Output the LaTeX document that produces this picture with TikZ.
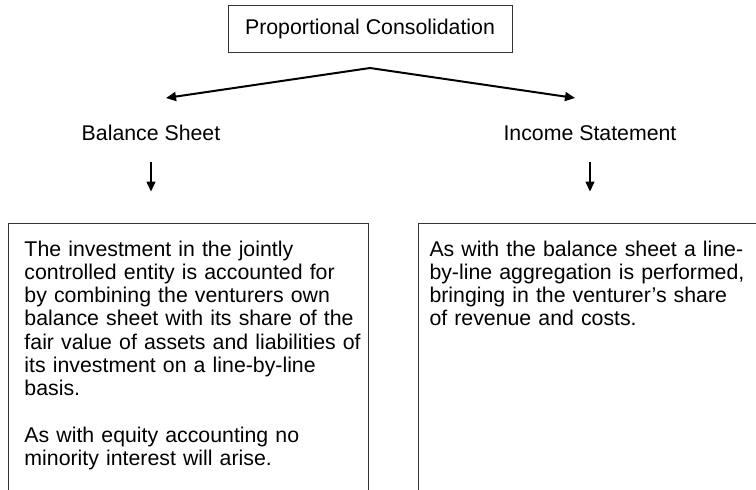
\documentclass[tikz,border=0pt]{standalone}
\usepackage{fontspec}
\setmainfont{Liberation Sans}
\usetikzlibrary{arrows.meta}

\begin{document}
\begin{tikzpicture}[
  x=0.5pt, y=-0.5pt,
  >={Triangle[length=5pt,width=4.5pt]},
  every node/.style={font=\fontsize{10.65}{11.65}\selectfont},
  title/.style={draw=black!80,line width=0.5pt,minimum width=142pt,minimum height=23.5pt,inner sep=0pt},
  head/.style={anchor=base,inner sep=0pt},
  note/.style={draw=black!80,line width=0.5pt,anchor=base west,align=left,
    inner ysep=8.5pt,text height=8pt,text depth=200pt},
  link/.style={->,line width=1pt},
  drop/.style={->,line width=0.75pt,shorten <=11pt,shorten >=15.5pt}]
\useasboundingbox (0,0) rectangle (756,489);
\clip (0,0) rectangle (756,489);
\node[title] (pc) at (370,28.5) {Proportional Consolidation};
\coordinate (split) at (370,68);
\coordinate (bsTip) at (166,98);
\coordinate (isTip) at (575,98);
\node[head] (bs) at (151,140) {Balance Sheet};
\node[head] (is) at (590,140) {Income Statement};
% left box is 180pt wide, the right one runs off the page
\node[note,inner xsep=8pt,text width=164pt] (bsnote) at (8,256) {%
  \mbox{The investment in the jointly}\\
  \mbox{controlled entity is accounted for}\\
  \mbox{by combining the venturers own}\\
  \mbox{balance sheet with its share of the}\\
  \mbox{fair value of assets and liabilities of}\\
  \mbox{its investment on a line-by-line}\\
  basis.\\[11.65pt]
  As with equity accounting no\\
  minority interest will arise.};
\node[note,inner xsep=5.5pt,text width=190pt] (isnote) at (418,256) {As with the balance sheet a line-\\
  by-line aggregation is performed,\\
  bringing in the venturer’s share\\
  of revenue and costs.};
\draw[link] (split) -- (bsTip);
\draw[link] (split) -- (isTip);
\draw[drop] (bs.base) -- (bs.base |- bsnote.north);
\draw[drop] (is.base) -- (is.base |- isnote.north);
\end{tikzpicture}
\end{document}
